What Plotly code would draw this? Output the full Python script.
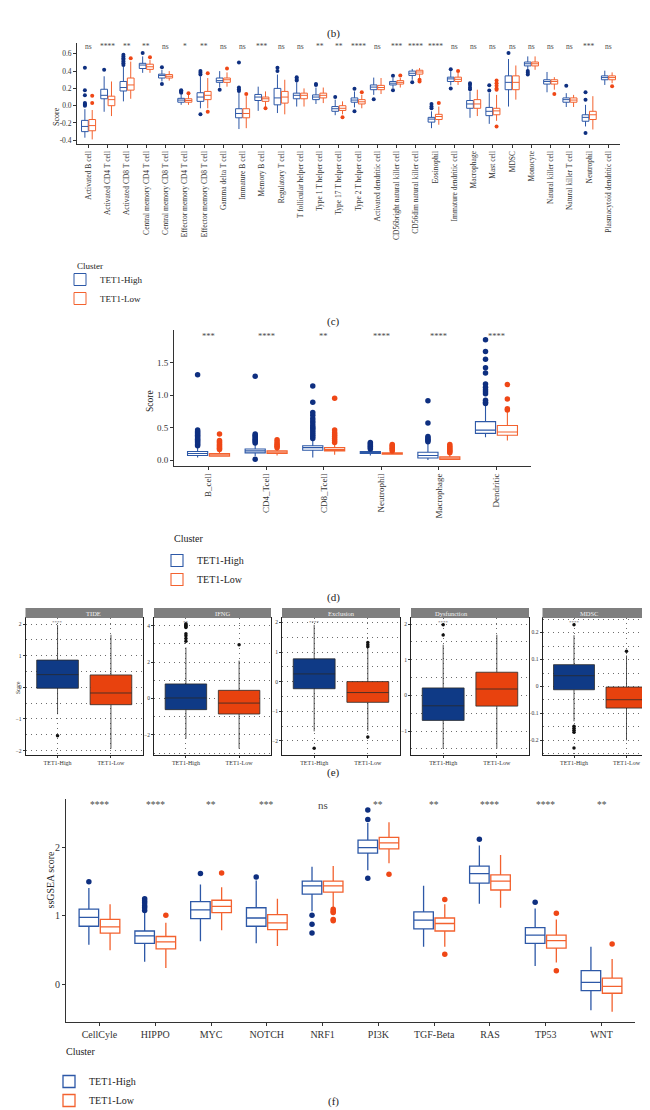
import plotly.graph_objects as go

W, H = 650, 1110
FONT = "Liberation Serif"
BLUE_LINE = "#2D58A7"
BLUE_DOT = "#0E2F80"
RED_LINE = "#F3622F"
RED_DOT = "#EF4716"
E_BLUE = "#0F3A86"
E_RED = "#E8420E"
STAR = "#4A4A4A"
AX = "#333333"
GRID = "#6E6E6E"
DOTS = "1px,4px"

# ---------------- Panel (c) data ----------------
c_cats = ["Activated B cell", "Activated CD4 T cell", "Activated CD8 T cell",
          "Central memory CD4 T cell", "Central memory CD8 T cell",
          "Effector memory CD4 T cell", "Effector memory CD8 T cell",
          "Gamma delta T cell", "Immature B cell", "Memory B cell",
          "Regulatory T cell", "T follicular helper cell", "Type 1 T helper cell",
          "Type 17 T helper cell", "Type 2 T helper cell", "Activated dendritic cell",
          "CD56bright natural killer cell", "CD56dim natural killer cell",
          "Eosinophil", "Immature dendritic cell", "Macrophage", "Mast cell",
          "MDSC", "Monocyte", "Natural killer cell", "Natural killer T cell",
          "Neutrophil", "Plasmacytoid dendritic cell"]
c_sig = ["ns", "****", "**", "**", "ns", "*", "**", "ns", "ns", "***", "ns", "ns",
         "**", "**", "****", "ns", "***", "****", "****", "ns", "ns", "ns", "ns",
         "ns", "ns", "ns", "***", "ns"]
# (lower whisker, q1, median, q3, upper whisker)
c_high = [(-0.37, -0.30, -0.24, -0.17, -0.04), (-0.07, 0.08, 0.12, 0.19, 0.34),
          (0.05, 0.17, 0.21, 0.28, 0.45), (0.38, 0.43, 0.47, 0.49, 0.57),
          (0.28, 0.32, 0.35, 0.365, 0.415), (0.01, 0.04, 0.065, 0.085, 0.13),
          (-0.03, 0.05, 0.10, 0.15, 0.34), (0.21, 0.27, 0.29, 0.32, 0.40),
          (-0.27, -0.14, -0.09, -0.035, 0.15), (-0.06, 0.06, 0.10, 0.13, 0.22),
          (-0.085, 0.01, 0.09, 0.20, 0.36), (-0.01, 0.08, 0.12, 0.145, 0.27),
          (0.02, 0.07, 0.10, 0.125, 0.21), (-0.11, -0.065, -0.035, -0.01, 0.07),
          (-0.02, 0.04, 0.065, 0.09, 0.165), (0.125, 0.185, 0.215, 0.24, 0.325),
          (0.205, 0.24, 0.26, 0.28, 0.32), (0.30, 0.35, 0.375, 0.40, 0.425),
          (-0.26, -0.19, -0.155, -0.135, -0.065), (0.235, 0.28, 0.31, 0.33, 0.40),
          (-0.14, -0.03, 0.02, 0.06, 0.165), (-0.21, -0.115, -0.065, -0.02, 0.145),
          (-0.01, 0.185, 0.27, 0.345, 0.54), (0.415, 0.46, 0.485, 0.505, 0.57),
          (0.155, 0.25, 0.28, 0.30, 0.39), (-0.015, 0.04, 0.07, 0.09, 0.145),
          (-0.24, -0.18, -0.135, -0.105, 0.01), (0.24, 0.30, 0.325, 0.345, 0.405)]
c_high_out = [[0.44, 0.18, 0.12, 0.03, 0.02, 0.01, 0.0], [0.415],
              [0.47, 0.49, 0.51, 0.53, 0.55, 0.57, 0.59], [0.61], [0.445, 0.25],
              [0.15, 0.16, 0.17, 0.18], [0.36, 0.38, 0.40, -0.10], [0.185],
              [0.50, 0.17, 0.19, 0.21], [], [0.40, 0.44], [0.29, 0.31, 0.33],
              [0.24, 0.25], [0.10], [0.195, -0.065], [0.075], [0.345, 0.18], [0.27],
              [0.02, -0.01, -0.03], [0.42, 0.20], [0.19, 0.21, 0.24, 0.26],
              [0.175, 0.235], [0.61], [0.40, 0.38, 0.36], [], [0.23],
              [0.07, 0.155, -0.315], []]
c_low = [(-0.39, -0.29, -0.23, -0.16, -0.05), (-0.12, 0.0, 0.07, 0.11, 0.28),
         (0.08, 0.18, 0.24, 0.32, 0.51), (0.38, 0.42, 0.45, 0.48, 0.53),
         (0.29, 0.32, 0.34, 0.36, 0.40), (0.01, 0.04, 0.06, 0.08, 0.13),
         (-0.03, 0.07, 0.12, 0.165, 0.32), (0.22, 0.27, 0.30, 0.32, 0.385),
         (-0.26, -0.14, -0.09, -0.035, 0.11), (-0.02, 0.05, 0.08, 0.10, 0.165),
         (-0.10, 0.03, 0.10, 0.165, 0.30), (-0.01, 0.08, 0.12, 0.145, 0.20),
         (0.03, 0.09, 0.12, 0.145, 0.21), (-0.10, -0.055, -0.03, 0.0, 0.05),
         (-0.03, 0.02, 0.045, 0.07, 0.125), (0.135, 0.185, 0.21, 0.235, 0.32),
         (0.21, 0.25, 0.27, 0.29, 0.32), (0.32, 0.365, 0.39, 0.41, 0.435),
         (-0.22, -0.16, -0.125, -0.10, -0.01), (0.24, 0.28, 0.305, 0.33, 0.38),
         (-0.12, -0.03, 0.02, 0.07, 0.185), (-0.175, -0.105, -0.06, -0.03, 0.125),
         (0.07, 0.185, 0.27, 0.345, 0.465), (0.415, 0.46, 0.485, 0.505, 0.57),
         (0.185, 0.25, 0.28, 0.30, 0.33), (-0.015, 0.04, 0.065, 0.09, 0.125),
         (-0.275, -0.16, -0.105, -0.065, 0.11), (0.26, 0.30, 0.325, 0.345, 0.385)]
c_low_out = [[0.115, 0.03], [], [0.55], [0.56], [], [0.145], [0.375, -0.07], [0.43],
             [0.135], [-0.03], [], [], [], [-0.135], [0.155], [], [0.35], [0.30, 0.28],
             [0.03], [0.40], [], [0.185, 0.20, 0.23, 0.26, 0.29, -0.24], [], [],
             [0.135], [], [], [0.225]]

# ---------------- Panel (d) data ----------------
d_cats = ["B_cell", "CD4_Tcell", "CD8_Tcell", "Neutrophil", "Macrophage", "Dendritic"]
d_sig = ["***", "****", "**", "****", "****", "****"]
d_high = [(0.04, 0.07, 0.10, 0.13, 0.21), (0.06, 0.11, 0.14, 0.17, 0.24),
          (0.04, 0.15, 0.19, 0.22, 0.31), (0.07, 0.10, 0.11, 0.13, 0.16),
          (0.0, 0.03, 0.07, 0.12, 0.25), (0.35, 0.41, 0.46, 0.59, 0.85)]
d_high_out = [[0.22, 0.24, 0.26, 0.28, 0.30, 0.32, 0.34, 0.36, 0.38, 0.40, 0.42, 0.44, 0.46, 1.31],
              [0.01, 0.26, 0.28, 0.30, 0.32, 0.34, 0.36, 0.38, 0.40, 1.29],
              [0.33, 0.36, 0.39, 0.42, 0.45, 0.48, 0.50, 0.53, 0.57, 0.60, 0.64, 0.69, 0.73, 0.89, 1.14],
              [0.17, 0.19, 0.21, 0.23, 0.25, 0.27],
              [0.28, 0.30, 0.32, 0.34, 0.36, 0.57, 0.91],
              [0.87, 0.89, 0.92, 1.02, 1.05, 1.08, 1.12, 1.17, 1.34, 1.42, 1.55, 1.67, 1.85]]
d_low = [(0.05, 0.06, 0.08, 0.10, 0.14), (0.07, 0.10, 0.12, 0.14, 0.17),
         (0.08, 0.14, 0.16, 0.19, 0.25), (0.08, 0.09, 0.10, 0.11, 0.13),
         (0.0, 0.01, 0.03, 0.05, 0.10), (0.30, 0.38, 0.43, 0.53, 0.75)]
d_low_out = [[0.16, 0.18, 0.20, 0.22, 0.24, 0.26, 0.28, 0.30, 0.40],
             [0.19, 0.21, 0.23, 0.25, 0.28, 0.31],
             [0.27, 0.30, 0.33, 0.36, 0.39, 0.42, 0.46, 0.95],
             [0.14, 0.16, 0.18, 0.20, 0.22, 0.24],
             [0.11, 0.13, 0.15, 0.17, 0.19, 0.21, 0.24],
             [0.77, 0.79, 0.94, 1.16]]

# ---------------- Panel (e) data ----------------
e_groups = ["TET1-High", "TET1-Low"]
e_facets = ["TIDE", "IFNG", "Exclusion", "Dysfunction", "MDSC"]
e_sig = ["****", "**", "****", "****", "****"]
e_high = [(-0.85, -0.03, 0.40, 0.86, 1.97), (-2.2, -0.61, 0.03, 0.80, 2.8),
          (-1.68, -0.24, 0.26, 0.77, 1.92), (-1.49, -0.70, -0.29, 0.21, 1.42),
          (-0.129, -0.012, 0.040, 0.081, 0.19)]
e_high_out = [[-1.53], [3.15, 3.3, 3.45, 3.55, 3.9, 3.95, 4.0, 4.05, 4.1], [-2.25],
              [1.69, 1.98], [0.229, -0.147, -0.155, -0.162, -0.17, -0.228]]
e_low = [(-1.94, -0.55, -0.18, 0.39, 1.66), (-2.75, -0.85, -0.25, 0.45, 2.08),
         (-1.67, -0.70, -0.37, 0.0, 1.1), (-1.49, -0.30, 0.18, 0.65, 1.70),
         (-0.20, -0.080, -0.049, -0.002, 0.115)]
e_low_out = [[], [2.95], [1.18, 1.25, 1.32, -1.87], [], [0.131]]
e_yrange = [(-2.14, 2.19), (-3.10, 4.42), (-2.48, 2.15), (-1.67, 2.17), (-0.254, 0.254)]
e_dtick = [1, 2, 1, 1, 0.1]
e_minor = [0.5, 1, 0.5, 0.5, 0.05]

# ---------------- Panel (f) data ----------------
f_cats = ["CellCyle", "HIPPO", "MYC", "NOTCH", "NRF1", "PI3K", "TGF-Beta", "RAS", "TP53", "WNT"]
f_sig = ["****", "****", "**", "***", "ns", "**", "**", "****", "****", "**"]
f_high = [(0.58, 0.85, 0.98, 1.10, 1.41), (0.33, 0.60, 0.71, 0.78, 1.05),
          (0.63, 0.96, 1.09, 1.21, 1.46), (0.60, 0.85, 0.97, 1.12, 1.52),
          (1.07, 1.32, 1.44, 1.51, 1.72), (1.67, 1.92, 2.00, 2.11, 2.36),
          (0.55, 0.81, 0.94, 1.06, 1.44), (1.18, 1.48, 1.62, 1.73, 2.03),
          (0.27, 0.60, 0.72, 0.83, 1.11), (-0.38, -0.09, 0.03, 0.20, 0.55)]
f_high_out = [[1.50], [1.08, 1.12, 1.15, 1.19, 1.22, 1.25], [1.62], [1.57],
              [1.01, 0.88, 0.75], [2.41, 2.55, 1.55], [], [2.12], [1.20], []]
f_low = [(0.50, 0.75, 0.84, 0.95, 1.17), (0.24, 0.52, 0.62, 0.70, 0.90),
         (0.79, 1.05, 1.14, 1.23, 1.42), (0.56, 0.80, 0.90, 1.02, 1.25),
         (1.12, 1.35, 1.44, 1.51, 1.73), (1.77, 1.98, 2.07, 2.15, 2.37),
         (0.55, 0.78, 0.89, 0.97, 1.17), (1.12, 1.38, 1.51, 1.60, 1.89),
         (0.32, 0.53, 0.64, 0.72, 0.95), (-0.40, -0.13, -0.03, 0.09, 0.37)]
f_low_out = [[], [1.01], [1.63], [], [1.10, 1.07, 1.05, 0.95, 0.93], [1.61],
             [1.24, 0.44], [], [1.04, 0.20], [0.59]]

legend_names = ["TET1-High", "TET1-Low"]


def px(x):
    return x / W


def py(y):
    return 1 - y / H


fig = go.Figure()


def add_group(stats, outs, offset, width, line_color, fill, dot_color, dot_size,
              name, xa, ya, legend=None, showlegend=False, lw=1.1, pos=None):
    n = len(stats)
    xs = [(pos[i] if pos else i) + offset for i in range(n)]
    fig.add_trace(go.Box(
        x=xs, lowerfence=[s[0] for s in stats], q1=[s[1] for s in stats],
        median=[s[2] for s in stats], q3=[s[3] for s in stats],
        upperfence=[s[4] for s in stats], width=width, orientation="v",
        fillcolor=fill, line=dict(color=line_color, width=lw), whiskerwidth=0,
        boxpoints=False, name=name, xaxis=xa, yaxis=ya,
        legend=legend if legend else "legend", showlegend=showlegend,
        hoverinfo="skip"))
    ox, oy = [], []
    for i, o in enumerate(outs):
        for v in o:
            ox.append(xs[i])
            oy.append(v)
    fig.add_trace(go.Scatter(x=ox, y=oy, mode="markers", xaxis=xa, yaxis=ya,
                             marker=dict(color=dot_color, size=dot_size, line=dict(width=0)),
                             showlegend=False, hoverinfo="skip"))


OFF = 0.19
BW = 0.35

# panel c
add_group(c_high, c_high_out, -OFF, BW, BLUE_LINE, "white", BLUE_DOT, 4,
          legend_names[0], "x", "y", "legend", True, 1.0)
add_group(c_low, c_low_out, OFF, BW, RED_LINE, "white", RED_DOT, 4,
          legend_names[1], "x", "y", "legend", True, 1.0)
# panel d
add_group(d_high, d_high_out, -OFF, BW, BLUE_LINE, "white", BLUE_DOT, 5.5,
          legend_names[0], "x2", "y2", "legend2", True, 1.1)
add_group(d_low, d_low_out, OFF, BW, RED_LINE, "white", RED_DOT, 5.5,
          legend_names[1], "x2", "y2", "legend2", True, 1.1)
# panel e
for k in range(5):
    xa, ya = f"x{k + 3}", f"y{k + 3}"
    add_group([e_high[k]], [e_high_out[k]], 0, 0.78, "#2A2A2A", E_BLUE, "#111111", 3.5,
              e_groups[0], xa, ya, lw=0.8, pos=[0])
    add_group([e_low[k]], [e_low_out[k]], 0, 0.78, "#2A2A2A", E_RED, "#111111", 3.5,
              e_groups[1], xa, ya, lw=0.8, pos=[1])
# panel f
add_group(f_high, f_high_out, -OFF, BW, BLUE_LINE, "white", BLUE_DOT, 5.5,
          legend_names[0], "x8", "y8", "legend3", True, 1.3)
add_group(f_low, f_low_out, OFF, BW, RED_LINE, "white", RED_DOT, 5.5,
          legend_names[1], "x8", "y8", "legend3", True, 1.3)


def classic_x(domain, ncat, labels, size, angle, anchor):
    return dict(domain=domain, range=[-0.6, ncat - 0.4], tickvals=list(range(ncat)),
                ticktext=labels, tickangle=angle, showline=True, linecolor=AX,
                linewidth=1, ticks="outside", ticklen=3, tickcolor=AX, showgrid=False,
                zeroline=False, tickfont=dict(family=FONT, size=size, color=AX),
                anchor=anchor, fixedrange=True)


def classic_y(domain, rng, vals, fmt, size, anchor):
    return dict(domain=domain, range=rng, tickvals=vals,
                ticktext=[fmt.format(v) for v in vals], showline=True, linecolor=AX,
                linewidth=1, ticks="outside", ticklen=3, tickcolor=AX, showgrid=False,
                zeroline=False, tickfont=dict(family=FONT, size=size, color=AX),
                anchor=anchor, fixedrange=True)


layout = dict(width=W, height=H, margin=dict(l=0, r=0, t=0, b=0),
              paper_bgcolor="white", plot_bgcolor="white", boxmode="overlay",
              font=dict(family=FONT, color="#222"))

layout["xaxis"] = classic_x([px(69), px(612)], 28, c_cats, 7.5, -90, "y")
layout["yaxis"] = classic_y([py(136), py(35)], [-0.443, 0.725],
                            [-0.4, -0.2, 0.0, 0.2, 0.4, 0.6], "{:.1f}", 7.5, "x")
layout["xaxis2"] = classic_x([px(166), px(523)], 6, d_cats, 9, -90, "y2")
layout["yaxis2"] = classic_y([py(458), py(322)], [-0.092, 2.0],
                             [0.0, 0.5, 1.0, 1.5], "{:.1f}", 9, "x2")
layout["xaxis8"] = classic_x([px(58), px(627)], 10, f_cats, 10, 0, "y8")
layout["yaxis8"] = classic_y([py(1014), py(791)], [-0.55, 2.71], [0, 1, 2], "{}", 10, "x8")

e_domains = [(17.5, 135), (146, 263), (274, 392), (403, 521), (534.5, 650)]
shapes = []
annotations = []
for k in range(5):
    x0, x1 = e_domains[k]
    lo, hi = e_yrange[k]
    layout[f"xaxis{k + 3}"] = dict(
        domain=[px(x0), px(x1)], range=[-0.6, 1.6], tickvals=[0, 1], ticktext=e_groups,
        showgrid=True, gridcolor=GRID, griddash=DOTS, gridwidth=1,
        showline=True, mirror=True, linecolor="#222", linewidth=1, ticks="outside",
        ticklen=2, tickcolor="#333", zeroline=False, anchor=f"y{k + 3}",
        tickfont=dict(family=FONT, size=6, color="#333"), fixedrange=True)
    layout[f"yaxis{k + 3}"] = dict(
        domain=[py(747), py(610)], range=[lo, hi], dtick=e_dtick[k], tick0=0,
        showgrid=True, gridcolor=GRID, griddash=DOTS, gridwidth=1,
        minor=dict(dtick=e_minor[k], tick0=0, showgrid=True, gridcolor=GRID,
                   griddash=DOTS, gridwidth=1),
        showline=True, mirror=True, linecolor="#222", linewidth=1, ticks="outside",
        ticklen=2, tickcolor="#333", zeroline=False, anchor=f"x{k + 3}",
        tickfont=dict(family=FONT, size=5.5, color="#333"), fixedrange=True)
    shapes.append(dict(type="rect", xref="paper", yref="paper", x0=px(x0), x1=px(x1),
                       y0=py(610), y1=py(600), fillcolor="#7F7F7F", line=dict(width=0)))
    annotations.append(dict(xref="paper", yref="paper", x=px((x0 + x1) / 2), y=py(605),
                            text=e_facets[k], showarrow=False,
                            font=dict(family=FONT, size=6.5, color="#F2F2F2")))
    annotations.append(dict(xref=f"x{k + 3}", yref="paper", x=0, y=py(614),
                            text=e_sig[k], showarrow=False,
                            font=dict(family=FONT, size=5, color="#666")))

# significance labels
for i, s in enumerate(c_sig):
    annotations.append(dict(xref="x", yref="y", x=i, y=0.69, text=s, showarrow=False,
                            font=dict(family=FONT, size=7.5, color=STAR)))
for i, s in enumerate(d_sig):
    annotations.append(dict(xref="x2", yref="y2", x=i, y=1.91, text=s, showarrow=False,
                            font=dict(family=FONT, size=8.5, color=STAR)))
for i, s in enumerate(f_sig):
    annotations.append(dict(xref="x8", yref="y8", x=i, y=2.62, text=s, showarrow=False,
                            font=dict(family=FONT, size=9.5 if s != "ns" else 11, color=STAR)))

# panel letters & axis titles
for lbl, yy in [("(b)", 17), ("(c)", 305), ("(d)", 589), ("(e)", 773), ("(f)", 1102)]:
    annotations.append(dict(xref="paper", yref="paper", x=0.5, y=py(yy), text=lbl,
                            showarrow=False, font=dict(family=FONT, size=11, color="#222")))
for txt, xx, yy, sz in [("Score", 42, 97, 8), ("Score", 135, 393, 9.5),
                        ("Score", 5, 680, 5.5), ("ssGSEA score", 34, 903, 10)]:
    annotations.append(dict(xref="paper", yref="paper", x=px(xx), y=py(yy), text=txt,
                            textangle=-90, showarrow=False,
                            font=dict(family=FONT, size=sz, color="#222")))
# legend titles
for xx, yy, sz in [(67, 251, 9), (164, 530, 10), (55.5, 1051, 10)]:
    annotations.append(dict(xref="paper", yref="paper", x=px(xx), y=py(yy), text="Cluster",
                            xanchor="left", showarrow=False,
                            font=dict(family=FONT, size=sz, color="#222")))


def leg(x, y, size):
    return dict(x=px(x), y=py(y), xanchor="left", yanchor="top", bgcolor="rgba(0,0,0,0)",
                font=dict(family=FONT, size=size, color="#222"), itemwidth=30,
                tracegroupgap=0, borderwidth=0)


layout["legend"] = leg(52, 257, 9)
layout["legend2"] = leg(149, 538, 10)
layout["legend3"] = leg(41, 1059, 10)
layout["shapes"] = shapes
layout["annotations"] = annotations

fig.update_layout(**layout)
fig.write_html("out.html")
